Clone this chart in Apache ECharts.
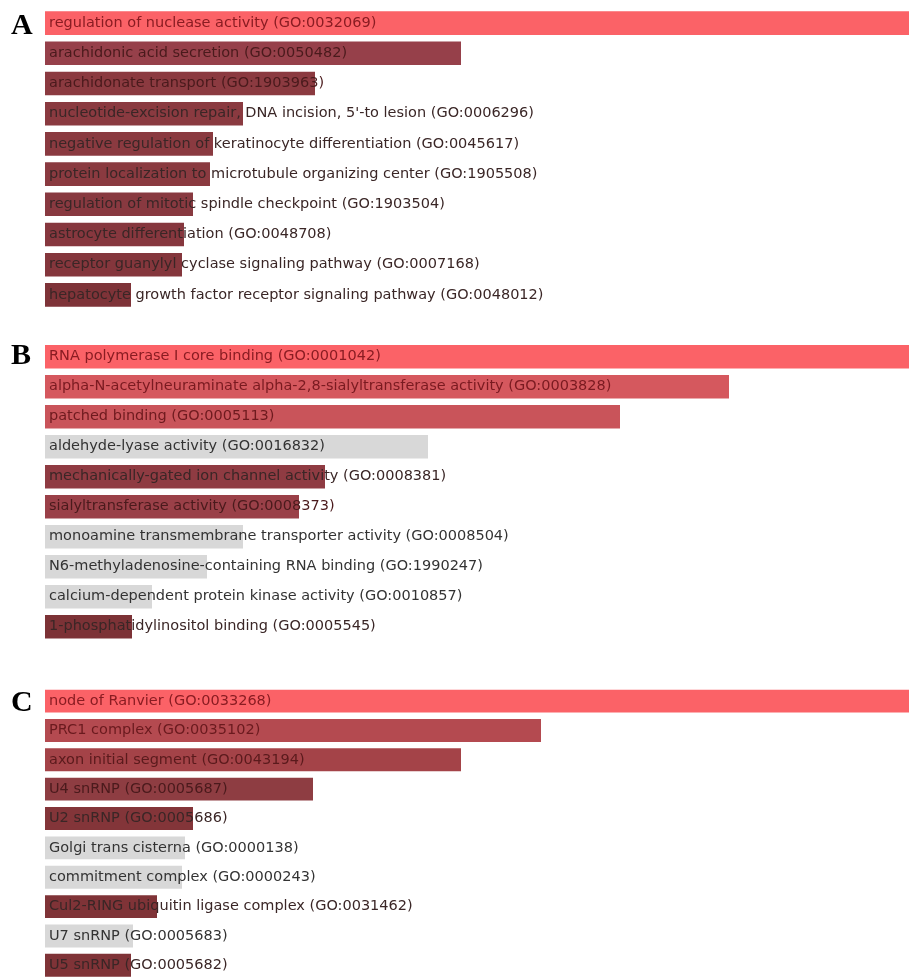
<!DOCTYPE html>
<html>
<head>
<meta charset="utf-8">
<script src="https://cdn.jsdelivr.net/npm/echarts@6/dist/echarts.min.js"></script>
<style>
html,body{margin:0;padding:0;background:#fff;}
#chart{width:909px;height:980px;}
</style>
</head>
<body>
<div id="chart"></div>
<script>
// ---- data ----
const termsA = [
  "regulation of nuclease activity (GO:0032069)",
  "arachidonic acid secretion (GO:0050482)",
  "arachidonate transport (GO:1903963)",
  "nucleotide-excision repair, DNA incision, 5'-to lesion (GO:0006296)",
  "negative regulation of keratinocyte differentiation (GO:0045617)",
  "protein localization to microtubule organizing center (GO:1905508)",
  "regulation of mitotic spindle checkpoint (GO:1903504)",
  "astrocyte differentiation (GO:0048708)",
  "receptor guanylyl cyclase signaling pathway (GO:0007168)",
  "hepatocyte growth factor receptor signaling pathway (GO:0048012)"
];
const scoresA = [864, 416, 270, 198, 168, 165, 148, 139, 137, 86];

const termsB = [
  "RNA polymerase I core binding (GO:0001042)",
  "alpha-N-acetylneuraminate alpha-2,8-sialyltransferase activity (GO:0003828)",
  "patched binding (GO:0005113)",
  "aldehyde-lyase activity (GO:0016832)",
  "mechanically-gated ion channel activity (GO:0008381)",
  "sialyltransferase activity (GO:0008373)",
  "monoamine transmembrane transporter activity (GO:0008504)",
  "N6-methyladenosine-containing RNA binding (GO:1990247)",
  "calcium-dependent protein kinase activity (GO:0010857)",
  "1-phosphatidylinositol binding (GO:0005545)"
];
const scoresB = [864, 684, 575, 383, 280, 254, 198, 162, 107, 87];

const termsC = [
  "node of Ranvier (GO:0033268)",
  "PRC1 complex (GO:0035102)",
  "axon initial segment (GO:0043194)",
  "U4 snRNP (GO:0005687)",
  "U2 snRNP (GO:0005686)",
  "Golgi trans cisterna (GO:0000138)",
  "commitment complex (GO:0000243)",
  "Cul2-RING ubiquitin ligase complex (GO:0031462)",
  "U7 snRNP (GO:0005683)",
  "U5 snRNP (GO:0005682)"
];
const scoresC = [864, 496, 416, 268, 148, 140, 137, 112, 88, 86];

const panelLetters = ["A", "B", "C"];

// ---- styles ----
const colorsA = ["#fb6267", "#96404a", "#8b3a40", "#8a3a40", "#8a3a40", "#8a3a40", "#883940", "#86373e", "#84363c", "#7e3338"];
const colorsB = ["#fb6267", "#d5585e", "#c9545a", "#d8d8d8", "#8f3b42", "#9a4048", "#d8d8d8", "#d8d8d8", "#d8d8d8", "#7c3236"];
const colorsC = ["#fb6267", "#b44a50", "#a44348", "#8e3d42", "#833539", "#d8d8d8", "#d8d8d8", "#7f3337", "#d8d8d8", "#7f3337"];
const labelA = ["#8a1c22", "#4a1a1c", "#4a1a1c", "#3a2626", "#3a2626", "#3a2626", "#3a2626", "#3a2626", "#3a2626", "#3a2626"];
const labelB = ["#8a1c22", "#7a1a20", "#6e1a1e", "#333333", "#3a2626", "#4a1a1c", "#333333", "#333333", "#333333", "#3a2626"];
const labelC = ["#8a1c22", "#6a1a1e", "#5a1a1c", "#4a1a1c", "#3a2626", "#333333", "#333333", "#3a2626", "#333333", "#3a2626"];

const panels = [
  {terms: termsA, scores: scoresA, colors: colorsA, labels: labelA, top: 8, height: 302},
  {terms: termsB, scores: scoresB, colors: colorsB, labels: labelB, top: 341.7, height: 300},
  {terms: termsC, scores: scoresC, colors: colorsC, labels: labelC, top: 686.4, height: 302}
];
const letterTops = [11, 341, 688];

const chart = echarts.init(document.getElementById('chart'), null, {renderer: 'canvas'});

const grid = [], xAxis = [], yAxis = [], series = [];
panels.forEach((p, i) => {
  grid.push({left: 45, right: 0, top: p.top, height: p.height});
  xAxis.push({type: 'value', gridIndex: i, min: 0, max: Math.max(...p.scores), show: false});
  yAxis.push({type: 'category', gridIndex: i, data: p.terms, inverse: true, show: false});
  series.push({
    type: 'bar',
    xAxisIndex: i, yAxisIndex: i,
    barCategoryGap: '22%',
    silent: true,
    data: p.scores.map((v, k) => ({
      value: v,
      itemStyle: {color: p.colors[k]},
      label: {color: p.labels[k]}
    })),
    label: {
      show: true,
      position: 'insideLeft',
      distance: 4,
      formatter: (params) => p.terms[params.dataIndex],
      fontFamily: 'DejaVu Sans',
      fontSize: 14.5
    }
  });
});

chart.setOption({
  animation: false,
  backgroundColor: '#ffffff',
  title: panelLetters.map((t, i) => ({
    text: t, left: 11, top: letterTops[i], padding: 0,
    textStyle: {fontFamily: 'Liberation Serif', fontWeight: 'bold', fontSize: 30, color: '#000'}
  })),
  grid, xAxis, yAxis, series
});
</script>
</body>
</html>
